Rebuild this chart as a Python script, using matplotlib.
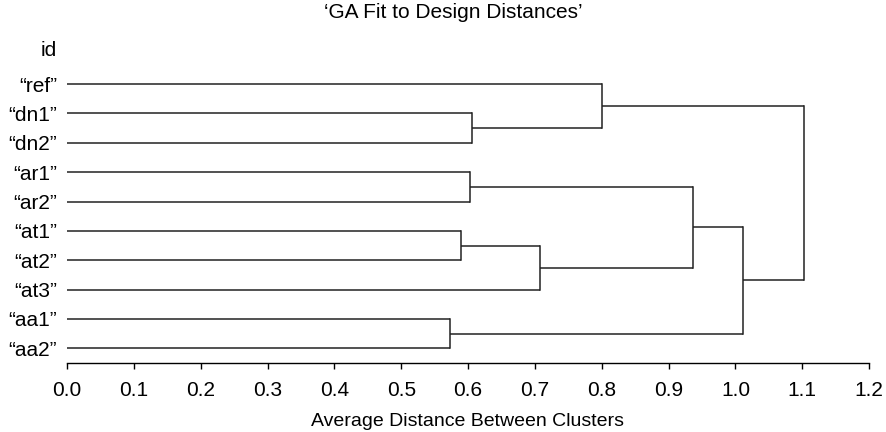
import matplotlib
matplotlib.use("Agg")
import matplotlib.pyplot as plt

# Leaf labels, top to bottom
leaves = ["“ref”", "“dn1”", "“dn2”", "“ar1”", "“ar2”",
          "“at1”", "“at2”", "“at3”", "“aa1”", "“aa2”"]

# Merge steps: (child_a, child_b, height); clusters numbered after leaves (10, 11, ...)
merge_a = [1, 0, 3, 5, 13, 12, 8, 15, 11]
merge_b = [2, 10, 4, 6, 7, 14, 9, 16, 17]
merge_h = [0.606, 0.801, 0.6035, 0.590, 0.708, 0.936, 0.573, 1.011, 1.103]

xticks = [0.0, 0.1, 0.2, 0.3, 0.4, 0.5, 0.6, 0.7, 0.8, 0.9, 1.0, 1.1, 1.2]

plt.rcParams['font.family'] = ['Liberation Sans', 'DejaVu Sans']

fig = plt.figure(figsize=(8.86, 4.32), dpi=100)
ax = fig.add_axes([0.0756, 0.1604, 0.9054, 0.6776])

ypos = {i: float(i) for i in range(len(leaves))}
xpos = {i: 0.0 for i in range(len(leaves))}
lc = "#222222"
lw = 1.1
for k, (a, b, h) in enumerate(zip(merge_a, merge_b, merge_h)):
    node = len(leaves) + k
    ax.plot([xpos[a], h], [ypos[a], ypos[a]], color=lc, lw=lw, solid_capstyle='butt')
    ax.plot([xpos[b], h], [ypos[b], ypos[b]], color=lc, lw=lw, solid_capstyle='butt')
    ax.plot([h, h], [ypos[a], ypos[b]], color=lc, lw=lw, solid_capstyle='projecting')
    ypos[node] = (ypos[a] + ypos[b]) / 2
    xpos[node] = h

ax.set_xlim(0, 1.2)
ax.set_ylim(9.49, -0.48)
ax.set_xticks(xticks)
ax.set_xticklabels([f"{t:.1f}" for t in xticks])
ax.set_yticks(range(len(leaves)))
ax.set_yticklabels(leaves)
ax.tick_params(axis='y', length=0, pad=7, labelsize=15)
ax.tick_params(axis='x', length=4, width=1, pad=9, direction='out', labelsize=15)
for s in ['left', 'top', 'right']:
    ax.spines[s].set_visible(False)
ax.spines['bottom'].set_linewidth(1)

fig.text(467 / 886, 1 - 421 / 432, "Average Distance Between Clusters",
         ha='center', va='center', fontsize=14)
fig.text(0.5113, 1 - 13 / 432, "‘GA Fit to Design Distances’", ha='center', va='center', fontsize=15)
fig.text(57 / 886, 1 - 50 / 432, "id", ha='right', va='center', fontsize=15)

fig.savefig("out.png", dpi=100)
